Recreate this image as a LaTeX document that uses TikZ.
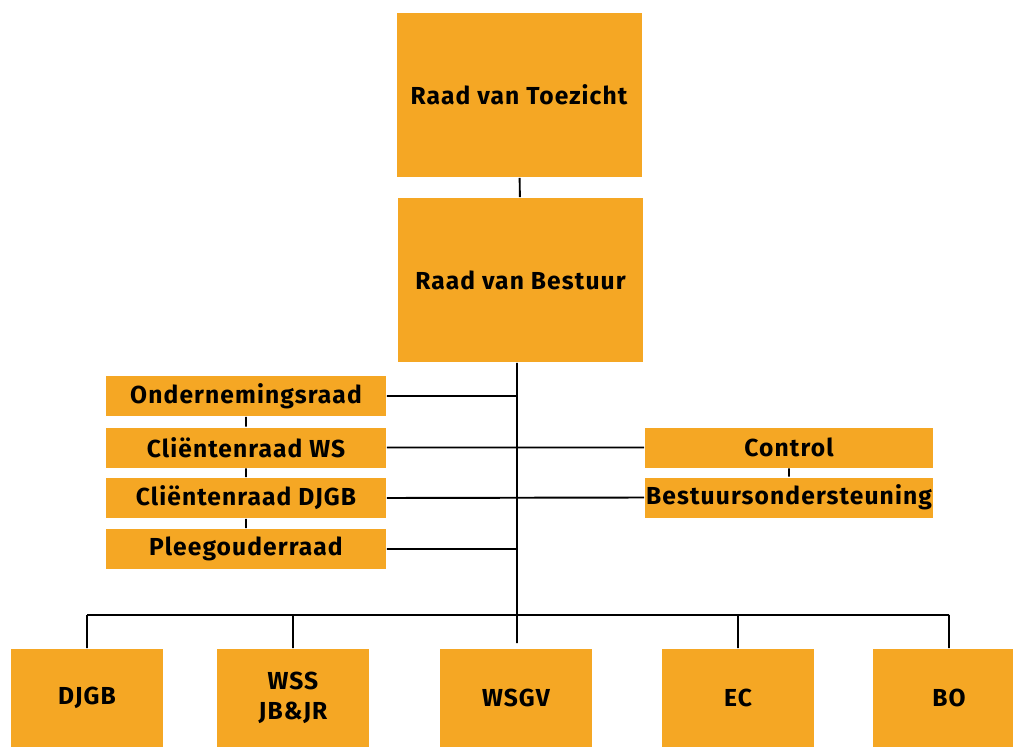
\documentclass[tikz,border=0pt]{standalone}
\usepackage{fontspec}
\setmainfont{Fira Sans}
\newfontfamily\chartfont{Fira Sans}[LetterSpace=4.5]
\usepackage{tikz}
\usetikzlibrary{calc}
\definecolor{orgorange}{RGB}{245,167,36}

\begin{document}
\begin{tikzpicture}[
	box/.style={fill=orgorange, draw=none, align=center, font=\chartfont\bfseries\fontsize{14}{17}\selectfont, inner sep=0pt},
	bigbox/.style={box, minimum width=4.9cm, minimum height=3.28cm},
	bar/.style={box, minimum width=5.6cm, minimum height=0.8cm},
	unit/.style={box, minimum width=3.04cm, minimum height=1.96cm},
	every path/.style={line width=1.1pt}
]
\useasboundingbox (0,0) rectangle (20.26,14.94);
\node[bigbox] (rvt) at (10.38,13.04) {Raad van Toezicht};
\node[bigbox] (rvb) at (10.41,9.34) {Raad van Bestuur};
\node[bar] (or) at (4.92,7.02) {Ondernemingsraad};
\node[bar] (cws) at (4.92,5.99) {Cliëntenraad WS};
\node[bar] (cdjgb) at (4.92,4.98) {Cliëntenraad DJGB};
\node[bar] (pgr) at (4.92,3.96) {Pleegouderraad};
\node[bar, minimum width=5.76cm] (ctrl) at (15.78,5.99) {Control};
\node[bar, minimum width=5.76cm] (bos) at (15.78,4.99) {Bestuursondersteuning};
\node[unit] (djgb) at (1.74,0.98) {DJGB};
\node[unit] (wss) at (5.86,0.98) {WSS\\JB\&JR};
\node[unit] (wsgv) at (10.32,0.98) {WSGV};
\node[unit] (ec) at (14.76,0.98) {EC};
\node[unit] (bo) at (18.98,0.98) {BO};
\coordinate (top) at (rvb.south -| 10.34,0);
\coordinate (split) at (10.34,2.64);
\path[draw]
(rvt) -- (rvb)
(top) -- (split)
(or.east) -- (or.east -| top)
(pgr.east) -- (pgr.east -| top)
(cws.east) -- (ctrl.west)
(cdjgb.east) -- (bos.west)
(or) -- (cws)
(cws) -- (cdjgb)
(cdjgb) -- (pgr)
(ctrl) -- (bos)
(split -| djgb) -- (split -| bo)
;
\path[draw]
(split -| djgb) -- (djgb.north)
(split -| wss) -- (wss.north)
(split) -- ($(split)!0.85!(split |- wsgv.north)$)
(split -| ec) -- (ec.north)
(split -| bo) -- (bo.north)
;
\end{tikzpicture}
\end{document}
